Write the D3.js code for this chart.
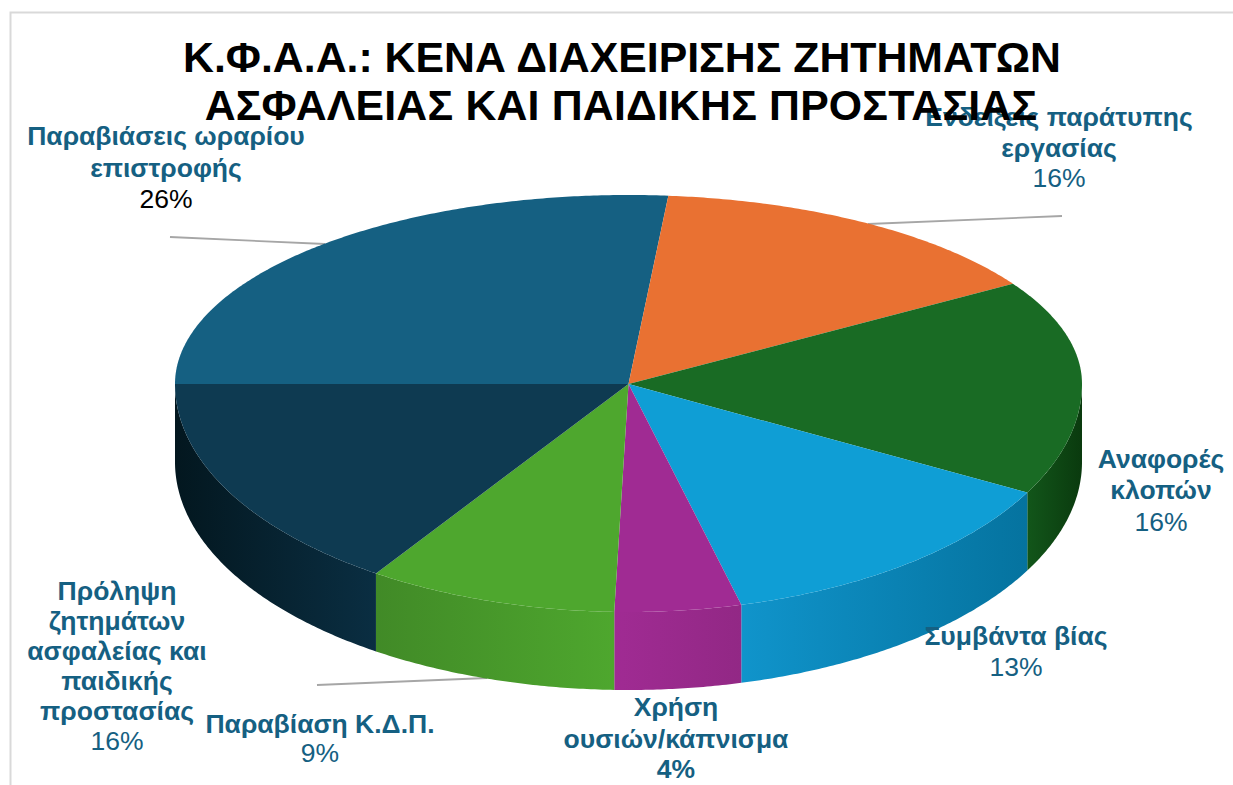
<!DOCTYPE html>
<html>
<head>
<meta charset="utf-8">
<script src="https://cdn.jsdelivr.net/npm/d3@7/dist/d3.min.js"></script>
<style>
html,body{margin:0;padding:0;background:#fff;overflow:hidden}
text{font-family:"Liberation Sans",Arial,sans-serif}
</style>
</head>
<body>
<svg id="c" width="1233" height="785"></svg>
<script>
// Data
const titleLines = ["Κ.Φ.Α.Α.: ΚΕΝΑ ΔΙΑΧΕΙΡΙΣΗΣ ΖΗΤΗΜΑΤΩΝ", "ΑΣΦΑΛΕΙΑΣ ΚΑΙ ΠΑΙΔΙΚΗΣ ΠΡΟΣΤΑΣΙΑΣ"];
const categories = [
  ["Παραβιάσεις ωραρίου", "επιστροφής"],
  ["Ενδείξεις παράτυπης", "εργασίας"],
  ["Αναφορές", "κλοπών"],
  ["Συμβάντα βίας"],
  ["Χρήση", "ουσιών/κάπνισμα"],
  ["Παραβίαση Κ.Δ.Π."],
  ["Πρόληψη", "ζητημάτων", "ασφαλείας και", "παιδικής", "προστασίας"]
];
const shares = [26.4, 14.7, 16.8, 13.1, 4.5, 8.9, 15.6];
const percentLabels = ["26%", "16%", "16%", "13%", "4%", "9%", "16%"];

// Styling and layout
const topColors = ["#156082", "#E97132", "#196B24", "#0F9ED5", "#A02B93", "#4EA72E", "#0E3A51"];
const wallStops = [
  ["#0e4058", "#0e4058"], ["#b0521f", "#b0521f"], ["#12561a", "#0a3a0e"],
  ["#1094cb", "#05739f"], ["#a02b93", "#922885"], ["#418a27", "#4ea72e"], ["#03171f", "#0a2e42"]
];
const labelPlacement = [
  {x: 166, y: [145, 177, 208], color: "#000", bold: false},
  {x: 1059, y: [126, 157, 187], color: "#156082", bold: false},
  {x: 1161, y: [468, 499, 531], color: "#156082", bold: false},
  {x: 1016, y: [645, 676], color: "#156082", bold: false},
  {x: 676, y: [716, 748, 778], color: "#156082", bold: true},
  {x: 320, y: [733, 762], color: "#156082", bold: false},
  {x: 117, y: [600, 630, 660, 690, 720, 750], color: "#156082", bold: false}
];
const leaderLines = [
  [[170, 237], [325, 244]],
  [[868, 224], [1062, 216]],
  [[317, 685], [487, 678]]
];

const svg = d3.select("#c");
const defs = svg.append("defs");

// Perspective ellipse: the far half is flatter than the near half
const xScale = d3.scaleLinear().domain([-1, 1]).range([175, 1082]);
const yScale = d3.scaleLinear().domain([-1, 0, 1]).range([195, 384, 612]);
const depth = 78;
const deg = Math.PI / 180;
const px = a => xScale(Math.sin(a));
const py = a => yScale(-Math.cos(a));
const line = d3.line();

const arcs = d3.pie().sort(null).startAngle(-90 * deg).endAngle(270 * deg)(shares);

// frame
svg.append("path")
  .attr("d", "M10.5,785V12.5H1233")
  .attr("fill", "none").attr("stroke", "#d9d9d9").attr("stroke-width", 2);

// leader lines
svg.selectAll("line.lead").data(leaderLines).join("line")
  .attr("class", "lead")
  .attr("x1", d => d[0][0]).attr("y1", d => d[0][1])
  .attr("x2", d => d[1][0]).attr("y2", d => d[1][1])
  .attr("stroke", "#a6a6a6").attr("stroke-width", 1.8);

const samples = (a0, a1) => {
  const n = Math.max(2, Math.ceil((a1 - a0) / (0.5 * deg)));
  return d3.range(n + 1).map(i => a0 + (a1 - a0) * i / n);
};

// side walls on the near half
arcs.forEach((d, i) => {
  const a0 = Math.max(d.startAngle, 90 * deg);
  const a1 = Math.min(d.endAngle, 270 * deg);
  if (a1 <= a0) return;
  const s = samples(a0, a1);
  const xs = s.map(px);
  const gid = "wall" + i;
  const g = defs.append("linearGradient").attr("id", gid)
    .attr("gradientUnits", "userSpaceOnUse")
    .attr("x1", d3.min(xs)).attr("x2", d3.max(xs)).attr("y1", 0).attr("y2", 0);
  g.append("stop").attr("offset", 0).attr("stop-color", wallStops[i][0]);
  g.append("stop").attr("offset", 1).attr("stop-color", wallStops[i][1]);
  const upper = s.map(a => [px(a), py(a)]);
  const lower = s.slice().reverse().map(a => [px(a), py(a) + depth]);
  svg.append("path").attr("d", line(upper.concat(lower)) + "Z")
    .attr("fill", `url(#${gid})`);
});

// top faces
const centre = [xScale(0), yScale(0)];
svg.selectAll("path.top").data(arcs).join("path")
  .attr("class", "top")
  .attr("d", d => line([centre].concat(samples(d.startAngle, d.endAngle).map(a => [px(a), py(a)]))) + "Z")
  .attr("fill", (d, i) => topColors[i]);

// data labels
categories.forEach((lines, i) => {
  const p = labelPlacement[i];
  lines.forEach((t, j) => {
    svg.append("text").attr("x", p.x).attr("y", p.y[j])
      .attr("text-anchor", "middle").attr("font-size", 26.5).attr("font-weight", 700)
      .attr("fill", "#156082").text(t);
  });
  svg.append("text").attr("x", p.x).attr("y", p.y[lines.length])
    .attr("text-anchor", "middle").attr("font-size", 26.5)
    .attr("font-weight", p.bold ? 700 : 400)
    .attr("fill", p.color).text(percentLabels[i]);
});

// title
svg.selectAll("text.title").data(titleLines).join("text")
  .attr("class", "title")
  .attr("x", (d, i) => i ? 621 : 622).attr("y", (d, i) => 72 + i * 48)
  .attr("letter-spacing", (d, i) => i ? 0.18 : 0)
  .attr("text-anchor", "middle").attr("font-size", 42.8).attr("font-weight", 700)
  .attr("fill", "#000").text(d => d);
</script>
</body>
</html>
